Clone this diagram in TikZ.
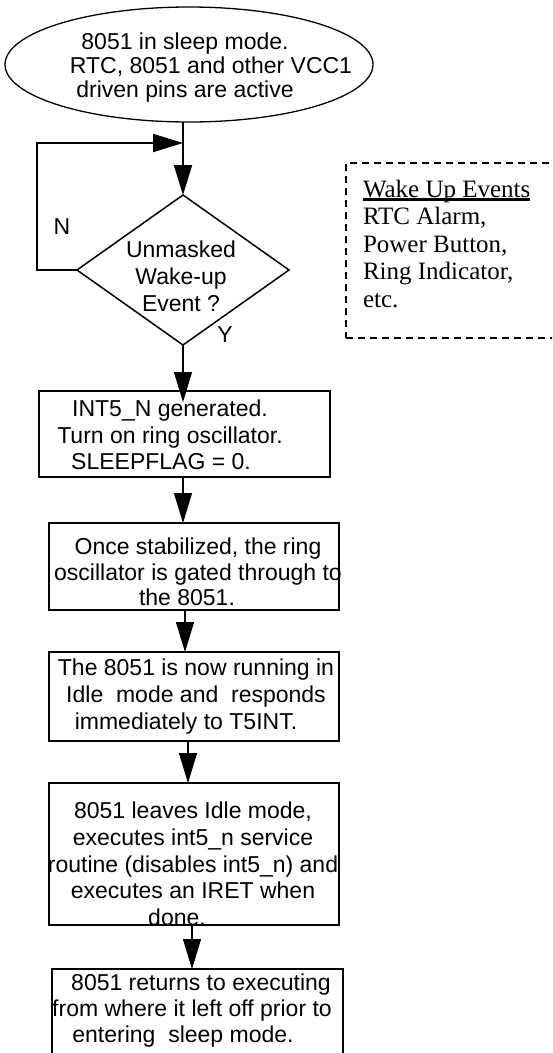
\documentclass[tikz,border=0pt]{standalone}
\usepackage{fontspec}
\setmainfont{Liberation Sans}
\newfontfamily\tnr{Liberation Serif}
\usetikzlibrary{shapes.geometric,arrows.meta,calc}
\newcommand\thickul[1]{\setbox0\hbox{#1}\rlap{\rule[-3.5pt]{\wd0}{2.5pt}}\box0}
\begin{document}
\begin{tikzpicture}[x=1pt,y=1pt,
  every node/.style={inner sep=0pt, outer sep=0pt},
  txt/.style={font=\fontsize{23}{26.5}\selectfont, align=center},
  box/.style={draw, line width=1.3pt, rectangle},
  tip/.style={-{Triangle[length=30pt,width=18pt]}},
  arr/.style={line width=1.2pt, tip},
  loopline/.style={line width=2pt},
  dashbox/.style={draw, line width=2pt, dash pattern=on 7pt off 5pt, rectangle},
]
\clip (0,0) rectangle (552,-1053);
% start ellipse
\node[ellipse, draw, line width=1.3pt, minimum width=368pt, minimum height=115pt] (ell) at (189,-64.5) {};
\node[txt, font=\fontsize{23}{24}\selectfont] (ellt) at (185,-68) {8051 in sleep mode.\\\hspace*{52pt}RTC, 8051 and other VCC1\\driven pins are active};
% decision
\node[diamond, draw, line width=1.5pt, minimum width=212pt, minimum height=150pt] (dec) at (183,-270) {};
\node[txt, font=\fontsize{23}{27}\selectfont] (dect) at (181,-276) {Unmasked\\Wake-up\\Event ?};
\node[txt] (nlab) at (62,-227) {N};
\node[txt] (ylab) at (225,-335) {Y};
\coordinate (jn) at (183,-143);
% boxes
\node[box, minimum width=291pt, minimum height=86pt] (b1) at (184.5,-434) {};
\node[box, minimum width=290pt, minimum height=87pt] (b2) at (194,-566.5) {};
\node[box, minimum width=290pt, minimum height=89pt] (b3) at (194,-696.5) {};
\node[box, minimum width=290pt, minimum height=142pt] (b4) at (194,-854) {};
\node[box, minimum width=291pt, minimum height=120pt] (b5) at (197.5,-1029) {};
\node[txt] (t1) at (170,-435) {INT5\_N generated.\\Turn on ring oscillator.\\SLEEPFLAG = 0.\hspace*{18pt}};
\node[txt, font=\fontsize{23}{25.5}\selectfont] (t2) at (198,-572) {Once stabilized, the ring\\oscillator is gated through to\\the 8051.\hspace*{22pt}};
\node[txt, font=\fontsize{23}{27}\selectfont] (t3) at (196,-697) {The 8051 is now running in\\Idle\ \ mode and\ \ responds\\immediately to T5INT.\hspace*{20pt}};
\node[txt, font=\fontsize{23}{26.75}\selectfont] (t4) at (193,-864) {8051 leaves Idle mode,\\executes int5\_n service\\routine (disables int5\_n) and\\executes an IRET when\\done.\hspace*{32pt}};
\node[txt, font=\fontsize{23}{26}\selectfont] (t5) at (192,-1011) {\hspace*{18pt}8051 returns to executing\\from where it left off prior to\\entering\ \ sleep mode.\hspace*{18pt}};
% wake up events
\node[dashbox, minimum width=260pt, minimum height=175pt] (wk) at (476,-250.5) {};
\node[anchor=north west, align=left, font=\tnr\fontsize{25}{27.5}\selectfont] (wkt) at (363,-180) {\thickul{Wake Up Events}\\RTC Alarm,\\Power Button,\\Ring Indicator,\\etc.};
% connectors
\draw[loopline, tip] (dec.north |- ell.south) -- (dec.north);
\draw[loopline, tip] (dec.west) -- ++(-40pt,0) |- (jn);
\draw[arr] (dec.south) -- ($(dec.south |- b1.north)+(0,-11pt)$);
\draw[arr] ($(b1.south)+(-1.5pt,0)$) -- ($(b1.south |- b2.north)+(-1.5pt,0)$);
\draw[arr] ($(b2.south)+(-9pt,0)$) -- ($(b2.south |- b3.north)+(-9pt,0)$);
\draw[arr] ($(b3.south)+(-6pt,0)$) -- ($(b3.south |- b4.north)+(-6pt,0)$);
\draw[arr] ($(b4.south)+(-2pt,0)$) -- ($(b4.south |- b5.north)+(-2pt,0)$);
\end{tikzpicture}
\end{document}
